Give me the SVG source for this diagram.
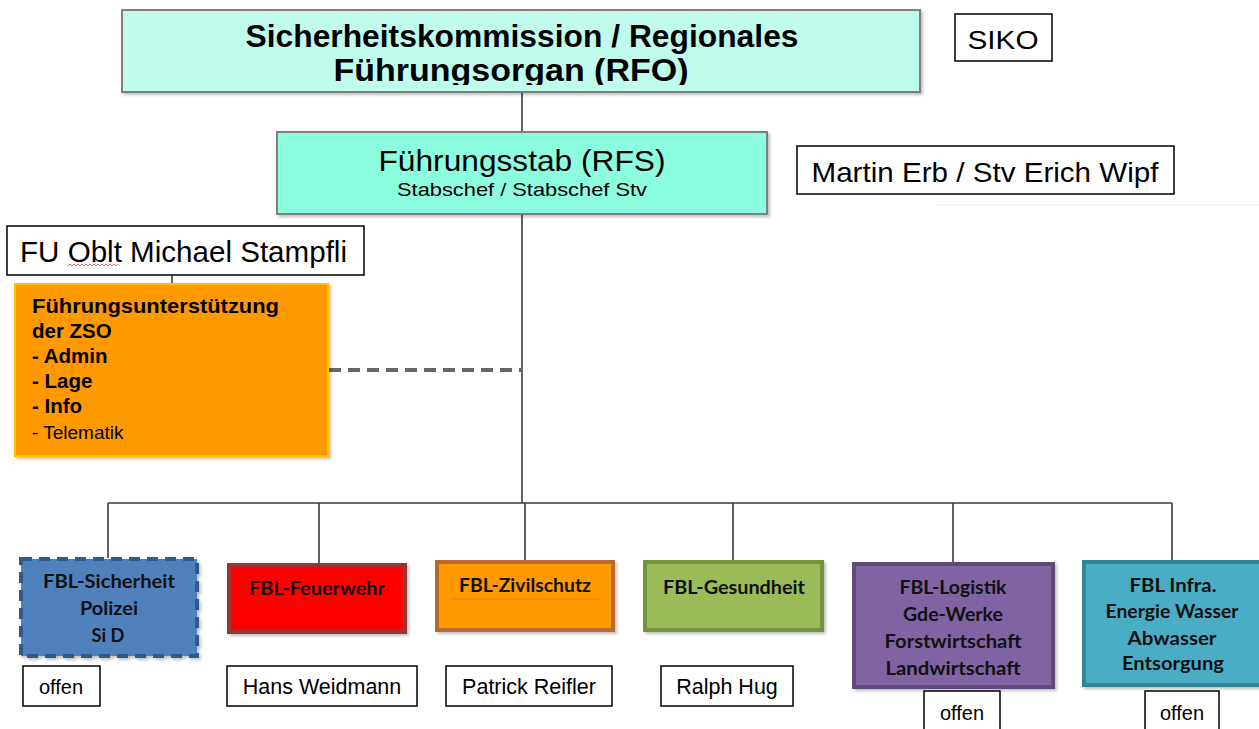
<svg xmlns="http://www.w3.org/2000/svg" width="1259" height="729" viewBox="0 0 1259 729">
<style>
  .lbl { fill: #fff; stroke: #000; stroke-width: 1.5; }
  .t { font-family: "Liberation Sans", Arial, sans-serif; fill: #000; }
  .c { font-family: Lato, "Noto Sans", sans-serif; font-weight: bold; fill: #111; font-size: 18.5px; text-anchor: middle; }
  .conn { stroke: #3a3a3a; stroke-width: 1.6; fill: none; }
</style>
<defs>
  <filter id="sh" x="-5%" y="-5%" width="115%" height="120%">
    <feDropShadow dx="2" dy="2" stdDeviation="1.5" flood-color="#000" flood-opacity="0.25"/>
  </filter>
  <clipPath id="topclip"><rect x="122" y="10" width="798" height="75"/></clipPath>
</defs>
<rect width="1259" height="729" fill="#fff"/>

<g id="connectors">
  <line class="conn" x1="522" y1="92" x2="522" y2="132"/>
  <line class="conn" x1="522" y1="214" x2="522" y2="503"/>
  <line class="conn" x1="172" y1="275" x2="172" y2="285"/>
  <line x1="329" y1="370" x2="522" y2="370" stroke="#666" stroke-width="4" stroke-dasharray="12,7"/>
  <line class="conn" x1="108" y1="503" x2="1172" y2="503"/>
  <line class="conn" x1="108" y1="503" x2="108" y2="558"/>
  <line class="conn" x1="319" y1="503" x2="319" y2="563"/>
  <line class="conn" x1="525" y1="503" x2="525" y2="561"/>
  <line class="conn" x1="733" y1="503" x2="733" y2="561"/>
  <line class="conn" x1="953" y1="503" x2="953" y2="563"/>
  <line class="conn" x1="1172" y1="503" x2="1172" y2="561"/>
  <line x1="935" y1="205" x2="1259" y2="205" stroke="#e6f7f2" stroke-width="1.5"/>
</g>

<g id="rfo">
  <rect x="122" y="10" width="798" height="82" fill="#c0fcee" stroke="#7f7f7f" stroke-width="2" filter="url(#sh)"/>
  <g clip-path="url(#topclip)">
    <text class="t" x="522" y="47" font-size="31" font-weight="bold" text-anchor="middle" textLength="553" lengthAdjust="spacingAndGlyphs">Sicherheitskommission / Regionales</text>
    <text class="t" x="511" y="81" font-size="31" font-weight="bold" text-anchor="middle" textLength="355" lengthAdjust="spacingAndGlyphs">Führungsorgan (RFO)</text>
  </g>
</g>

<g id="siko">
  <rect class="lbl" x="955" y="14" width="97" height="47"/>
  <text class="t" x="1003" y="49" font-size="26" text-anchor="middle" textLength="71" lengthAdjust="spacingAndGlyphs">SIKO</text>
</g>

<g id="rfs">
  <rect x="277" y="132" width="490" height="82" fill="#8cfddf" stroke="#7f7f7f" stroke-width="2" filter="url(#sh)"/>
  <text class="t" x="522" y="171" font-size="30" text-anchor="middle" textLength="287" lengthAdjust="spacingAndGlyphs">Führungsstab (RFS)</text>
  <text class="t" x="522" y="196" font-size="19" text-anchor="middle" textLength="250" lengthAdjust="spacingAndGlyphs">Stabschef / Stabschef Stv</text>
</g>

<g id="martin">
  <rect class="lbl" x="797" y="146" width="377" height="48"/>
  <text class="t" x="985" y="182" font-size="28" text-anchor="middle" textLength="347" lengthAdjust="spacingAndGlyphs">Martin Erb / Stv Erich Wipf</text>
</g>

<g id="fu">
  <rect class="lbl" x="7" y="226" width="357" height="49"/>
  <text class="t" x="20" y="262" font-size="29" textLength="327" lengthAdjust="spacingAndGlyphs">FU Oblt Michael Stampfli</text>
  <path d="M68 266 l2 -2 l2 2 l2 -2 l2 2 l2 -2 l2 2 l2 -2 l2 2 l2 -2 l2 2 l2 -2 l2 2 l2 -2 l2 2 l2 -2 l2 2 l2 -2 l2 2 l2 -2 l2 2 l2 -2 l2 2 l2 -2 l2 2 l2 -2" fill="none" stroke="#e04040" stroke-width="0.8"/>
</g>

<g id="fuzso">
  <rect x="15" y="284" width="313" height="172" fill="#ff9900" stroke="#ffc000" stroke-width="2" filter="url(#sh)"/>
  <text class="t" x="32" y="313" font-size="20.5" font-weight="bold" textLength="247" lengthAdjust="spacingAndGlyphs">Führungsunterstützung</text>
  <text class="t" x="32" y="338" font-size="20.5" font-weight="bold">der ZSO</text>
  <text class="t" x="32" y="363" font-size="20.5" font-weight="bold">- Admin</text>
  <text class="t" x="32" y="388" font-size="20.5" font-weight="bold">- Lage</text>
  <text class="t" x="32" y="413" font-size="20.5" font-weight="bold">- Info</text>
  <text class="t" x="32" y="439" font-size="19" fill="#222">- Telematik</text>
</g>

<g id="sicherheit">
  <rect x="21" y="559" width="176" height="97" fill="#4f81bd" stroke="#2f5a8c" stroke-width="4" stroke-dasharray="11,7" filter="url(#sh)"/>
  <text class="c" x="109" y="588" textLength="132" lengthAdjust="spacingAndGlyphs">FBL-Sicherheit</text>
  <text class="c" x="109" y="615" textLength="58" lengthAdjust="spacingAndGlyphs">Polizei</text>
  <text class="c" x="108" y="642" textLength="33" lengthAdjust="spacingAndGlyphs">Si D</text>
</g>
<g id="offen1">
  <rect class="lbl" x="23" y="666" width="77" height="40"/>
  <text class="t" x="61" y="694" font-size="20" text-anchor="middle">offen</text>
</g>

<g id="feuerwehr">
  <rect x="229" y="565" width="176" height="67" fill="#ff0000" stroke="#953735" stroke-width="4" filter="url(#sh)"/>
  <text class="c" x="317" y="595" textLength="136" lengthAdjust="spacingAndGlyphs">FBL-Feuerwehr</text>
</g>
<g id="weidmann">
  <rect class="lbl" x="227" y="666" width="190" height="40"/>
  <text class="t" x="322" y="694" font-size="21.5" text-anchor="middle">Hans Weidmann</text>
</g>

<g id="zivilschutz">
  <rect x="437" y="562" width="176" height="68" fill="#ff9900" stroke="#b86a2e" stroke-width="4" filter="url(#sh)"/>
  <line x1="450" y1="599" x2="600" y2="599" stroke="#d9862a" stroke-width="1"/>
  <text class="c" x="525" y="592" textLength="132" lengthAdjust="spacingAndGlyphs">FBL-Zivilschutz</text>
</g>
<g id="reifler">
  <rect class="lbl" x="446" y="666" width="166" height="40"/>
  <text class="t" x="529" y="694" font-size="21.5" text-anchor="middle">Patrick Reifler</text>
</g>

<g id="gesundheit">
  <rect x="645" y="562" width="177" height="68" fill="#9bbb59" stroke="#76923c" stroke-width="4" filter="url(#sh)"/>
  <text class="c" x="734" y="594" textLength="142" lengthAdjust="spacingAndGlyphs">FBL-Gesundheit</text>
</g>
<g id="hug">
  <rect class="lbl" x="661" y="666" width="132" height="40"/>
  <text class="t" x="727" y="694" font-size="21.5" text-anchor="middle">Ralph Hug</text>
</g>

<g id="logistik">
  <rect x="854" y="564" width="199" height="123" fill="#8064a2" stroke="#5f497a" stroke-width="4" filter="url(#sh)"/>
  <text class="c" x="953" y="594" textLength="107" lengthAdjust="spacingAndGlyphs">FBL-Logistik</text>
  <text class="c" x="953" y="621" textLength="100" lengthAdjust="spacingAndGlyphs">Gde-Werke</text>
  <text class="c" x="953" y="648" textLength="137" lengthAdjust="spacingAndGlyphs">Forstwirtschaft</text>
  <text class="c" x="953" y="675" textLength="135" lengthAdjust="spacingAndGlyphs">Landwirtschaft</text>
</g>
<g id="offen2">
  <rect class="lbl" x="924" y="691" width="76" height="42"/>
  <text class="t" x="962" y="720" font-size="20" text-anchor="middle">offen</text>
</g>

<g id="infra">
  <rect x="1084" y="562" width="177" height="123" fill="#4bacc6" stroke="#31849b" stroke-width="4" filter="url(#sh)"/>
  <text class="c" x="1173" y="592" textLength="87" lengthAdjust="spacingAndGlyphs">FBL Infra.</text>
  <text class="c" x="1172" y="618" textLength="133" lengthAdjust="spacingAndGlyphs">Energie Wasser</text>
  <text class="c" x="1172" y="645" textLength="89" lengthAdjust="spacingAndGlyphs">Abwasser</text>
  <text class="c" x="1173" y="670" textLength="102" lengthAdjust="spacingAndGlyphs">Entsorgung</text>
</g>
<g id="offen3">
  <rect class="lbl" x="1145" y="691" width="74" height="42"/>
  <text class="t" x="1182" y="720" font-size="20" text-anchor="middle">offen</text>
</g>
</svg>
